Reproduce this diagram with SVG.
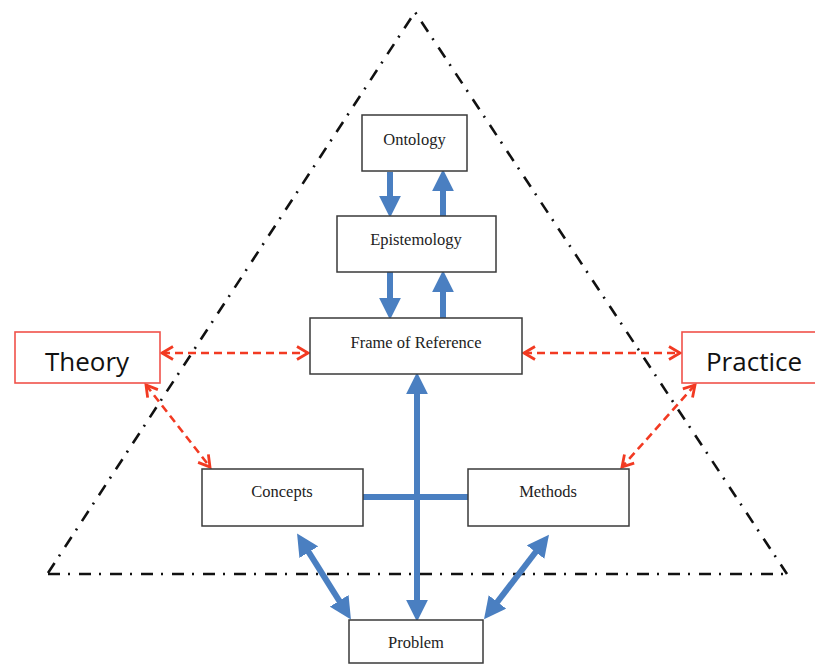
<svg xmlns="http://www.w3.org/2000/svg" width="815" height="664" viewBox="0 0 815 664">
<style>
.box{fill:#fff;stroke:#3a3a3a;stroke-width:1.5}
.rbox{fill:#fff;stroke:#f0524a;stroke-width:1.6}
.lbl{font-family:"Liberation Serif","Times New Roman",serif;font-size:16.5px;fill:#222;text-anchor:middle}
.big{font-family:"Open Sans","Liberation Sans",Arial,sans-serif;font-size:26px;fill:#111;text-anchor:middle}
.tri{fill:none;stroke:#111;stroke-width:2.6;stroke-dasharray:12 8 2 9}
.blue{stroke:#4a7fc1;stroke-width:6;fill:none}
.red{stroke:#f23a22;stroke-width:2.6;fill:none;stroke-dasharray:8 5}
</style>
<defs>
<marker id="bh" markerUnits="userSpaceOnUse" markerWidth="22" markerHeight="22" viewBox="0 0 20 20" refX="3" refY="10" orient="auto-start-reverse">
<path d="M0,0 L20,10 L0,20 z" fill="#4a7fc1"/>
</marker>
<marker id="rh" markerUnits="userSpaceOnUse" markerWidth="16" markerHeight="16" viewBox="0 0 16 16" refX="13" refY="8" orient="auto-start-reverse">
<path d="M2,1.5 L13,8 L2,14.5" fill="none" stroke="#f23a22" stroke-width="2.8"/>
</marker>
</defs>
<g id="triangle">
<path class="tri" d="M48,573 L415,12 L787,574"/>
<path class="tri" d="M48,574 L790,574"/>
</g>
<g id="connectors">
<line class="blue" x1="390" y1="172" x2="390" y2="199" marker-end="url(#bh)"/>
<line class="blue" x1="443" y1="216" x2="443" y2="188" marker-end="url(#bh)"/>
<line class="blue" x1="390" y1="272" x2="390" y2="301" marker-end="url(#bh)"/>
<line class="blue" x1="443" y1="318" x2="443" y2="289" marker-end="url(#bh)"/>
<line class="blue" x1="417" y1="391" x2="417" y2="603" marker-start="url(#bh)" marker-end="url(#bh)"/>
<line class="blue" x1="363" y1="497" x2="468" y2="497"/>
<line class="blue" x1="307" y1="549.4" x2="341" y2="603.6" marker-start="url(#bh)" marker-end="url(#bh)"/>
<line class="blue" x1="537.6" y1="549.5" x2="495.4" y2="604.5" marker-start="url(#bh)" marker-end="url(#bh)"/>
<line class="red" x1="162" y1="353" x2="308" y2="353" marker-start="url(#rh)" marker-end="url(#rh)"/>
<line class="red" x1="524" y1="353" x2="680" y2="353" marker-start="url(#rh)" marker-end="url(#rh)"/>
<line class="red" x1="146" y1="385" x2="210" y2="467" marker-start="url(#rh)" marker-end="url(#rh)"/>
<line class="red" x1="695" y1="385" x2="622" y2="467" marker-start="url(#rh)" marker-end="url(#rh)"/>
</g>
<g id="ontology"><rect class="box" x="362" y="115" width="105" height="56"/><text class="lbl" x="414.5" y="145">Ontology</text></g>
<g id="epistemology"><rect class="box" x="337" y="216" width="159" height="56"/><text class="lbl" x="416" y="245">Epistemology</text></g>
<g id="frame"><rect class="box" x="310" y="318" width="212" height="56"/><text class="lbl" x="416" y="348">Frame of Reference</text></g>
<g id="concepts"><rect class="box" x="202" y="469" width="161" height="57"/><text class="lbl" x="282" y="497">Concepts</text></g>
<g id="methods"><rect class="box" x="468" y="469" width="161" height="57"/><text class="lbl" x="548" y="497">Methods</text></g>
<g id="problem"><rect class="box" x="349" y="620" width="134" height="43"/><text class="lbl" x="416" y="648">Problem</text></g>
<g id="theory"><rect class="rbox" x="15" y="332" width="145" height="51"/><text class="big" x="87" y="371">Theory</text></g>
<g id="practice"><rect class="rbox" x="682" y="332" width="140" height="51"/><text class="big" x="754" y="371">Practice</text></g>
</svg>
